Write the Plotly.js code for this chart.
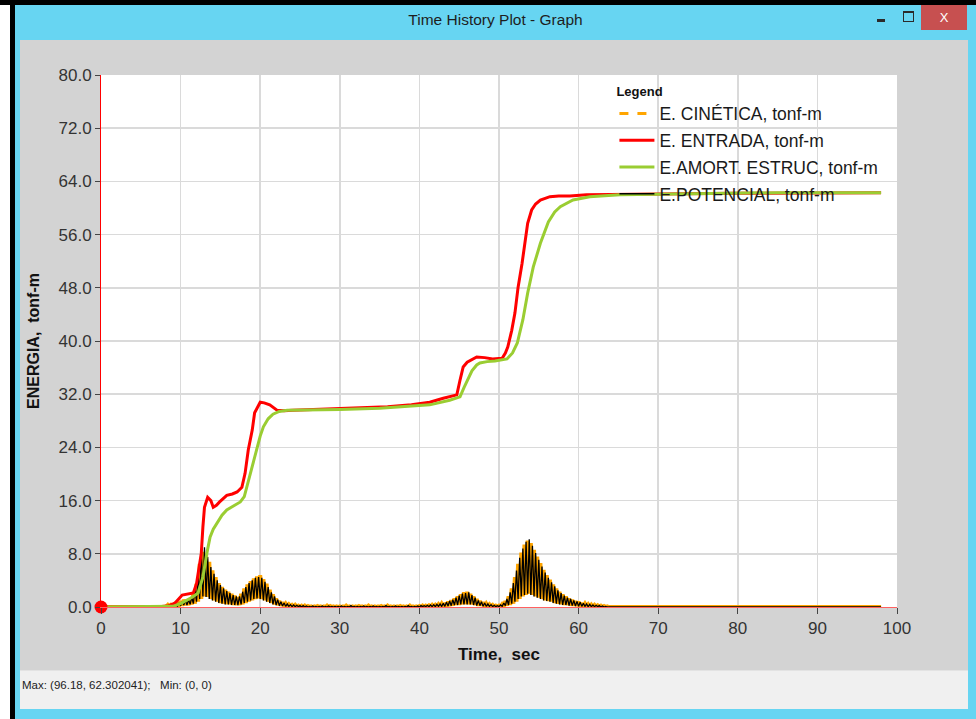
<!DOCTYPE html>
<html>
<head>
<meta charset="utf-8">
<script src="https://cdn.plot.ly/plotly-3.0.1.min.js"></script>
<style>
  html, body { margin:0; padding:0; }
  body { width:976px; height:719px; overflow:hidden; position:relative; background:#ffffff; font-family:"Liberation Sans", Arial, sans-serif; }
  .abs { position:absolute; }
  #blackTop { left:0; top:0; width:976px; height:5px; background:#000; }
  #blackLeft { left:10px; top:0; width:5px; height:719px; background:#000; }
  #win { left:15px; top:5px; width:961px; height:714px; background:#67d5f2; }
  #titleText { left:15px; top:11px; width:961px; text-align:center; font-size:15.5px; color:#1e1e1e; font-family:"Liberation Sans", Arial, sans-serif; }
  #btnMin { left:877px; top:19px; width:8px; height:3px; background:#2b2b2b; }
  #btnMax { left:903px; top:11px; width:9px; height:8px; border:1px solid #2b2b2b; border-top-width:2px; }
  #btnClose { left:921px; top:5px; width:46px; height:25px; background:#c75050; color:#fff; font-size:13px; text-align:center; line-height:25px; font-family:"Liberation Sans", Arial, sans-serif; }
  #content { left:20px; top:40px; width:948px; height:630px; background:#d3d3d3; }
  #status { left:20px; top:670px; width:948px; height:39px; background:#f0f0f0; border-top:1px solid #e3e3e3; box-sizing:border-box; }
  #statusText { left:22px; top:679px; font-size:11.5px; color:#222; white-space:pre; font-family:"Liberation Sans", Arial, sans-serif; }
  #plot { left:20px; top:40px; width:948px; height:630px; }
</style>
</head>
<body>
<div id="blackTop" class="abs"></div>
<div id="blackLeft" class="abs"></div>
<div id="win" class="abs"></div>
<div id="titleText" class="abs">Time History Plot - Graph</div>
<div id="btnMin" class="abs"></div>
<div id="btnMax" class="abs"></div>
<div id="btnClose" class="abs">X</div>
<div id="content" class="abs"></div>
<div id="status" class="abs"></div>
<div id="statusText" class="abs">Max: (96.18, 62.302041);   Min: (0, 0)</div>
<div id="plot" class="abs"></div>
<script>
// ---------------- DATA ----------------
const seriesNames = ["E. CINÉTICA, tonf-m", "E. ENTRADA, tonf-m", "E.AMORT. ESTRUC, tonf-m", "E.POTENCIAL, tonf-m"];

// Oscillating series sampled every 0.2 s starting at 8.0 s
const oscStart = 8.0;
const oscStep = 0.2;

const cineticaVals = [
  0.2,0.05,0.3,0.05,0.3,0.1,0.4,0.1,0.5,0.1,
  0.9,0.2,1.1,0.3,1.0,0.3,1.3,0.4,2.0,0.5,
  3.5,0.8,6.5,1.2,8.3,1.6,8.0,1.5,6.8,1.2,
  5.5,1.0,4.5,0.8,3.6,0.6,3.0,0.5,2.6,0.4,
  2.3,0.4,2.0,0.3,1.7,0.3,1.5,0.3,2.0,0.4,
  2.8,0.6,3.4,0.8,3.9,1.0,4.3,1.2,4.6,1.3,
  4.8,1.2,4.2,1.0,3.5,0.8,2.6,0.6,1.9,0.4,
  1.3,0.3,0.9,0.2,0.7,0.15,0.5,0.1,0.4,0.1,
  0.3,0.05,0.3,0.05,0.2,0.05,0.2,0.0,0.2,0.0,
  0.15,0.0,0.1,0.0,0.1,0.0,0.15,0.0,0.1,0.0,
  0.1,0.0,0.2,0.0,0.15,0.0,0.1,0.0,0.1,0.0,
  0.1,0.0,0.1,0.0,0.2,0.0,0.1,0.0,0.1,0.0,
  0.1,0.0,0.15,0.0,0.1,0.0,0.1,0.0,0.2,0.0,
  0.1,0.0,0.1,0.0,0.1,0.0,0.15,0.0,0.1,0.0,
  0.2,0.0,0.1,0.0,0.1,0.0,0.1,0.0,0.15,0.0,
  0.1,0.0,0.1,0.0,0.2,0.0,0.1,0.0,0.1,0.0,
  0.15,0.0,0.2,0.0,0.2,0.05,0.25,0.05,0.3,0.05,
  0.3,0.05,0.4,0.1,0.5,0.1,0.6,0.1,0.8,0.15,
  1.0,0.2,1.3,0.3,1.6,0.3,1.9,0.4,2.2,0.4,
  2.3,0.4,2.0,0.4,1.6,0.3,1.2,0.2,0.9,0.2,
  0.7,0.1,0.5,0.1,0.4,0.1,0.3,0.05,0.2,0.05,
  0.2,0.05,0.4,0.1,0.9,0.2,1.6,0.3,2.8,0.5,
  4.5,0.8,6.5,1.2,8.2,1.6,9.4,1.8,10.0,2.0,
  9.6,1.8,8.6,1.6,7.6,1.4,6.6,1.2,5.6,1.0,
  4.8,0.9,4.1,0.8,3.4,0.6,2.8,0.5,2.3,0.4,
  1.9,0.3,1.6,0.3,1.3,0.2,1.1,0.2,0.9,0.15,
  0.8,0.1,0.6,0.1,0.5,0.1,0.4,0.05,0.35,0.05,
  0.3,0.05,0.25,0.05,0.2,0.0,0.15,0.0,0.1,0.0
];

const potencialVals = [
  0.05,0.2,0.05,0.25,0.1,0.35,0.1,0.4,0.1,0.6,
  0.2,0.8,0.3,1.0,0.3,1.1,0.4,1.5,0.5,2.6,
  0.8,5.0,1.2,8.8,1.6,9.0,1.5,7.5,1.2,6.0,
  1.0,5.0,0.8,4.0,0.6,3.3,0.5,2.8,0.4,2.4,
  0.4,2.1,0.3,1.8,0.3,1.6,0.3,1.6,0.4,2.3,
  0.6,3.0,0.8,3.6,1.0,4.0,1.2,4.4,1.3,4.5,
  1.2,4.4,1.0,3.8,0.8,3.0,0.6,2.2,0.4,1.6,
  0.3,1.1,0.2,0.8,0.15,0.6,0.1,0.45,0.1,0.35,
  0.05,0.3,0.05,0.25,0.05,0.2,0.0,0.2,0.0,0.15,
  0.0,0.1,0.0,0.15,0.0,0.1,0.0,0.1,0.0,0.15,
  0.0,0.1,0.0,0.15,0.0,0.1,0.0,0.1,0.0,0.1,
  0.0,0.15,0.0,0.1,0.0,0.1,0.0,0.2,0.0,0.1,
  0.0,0.1,0.0,0.1,0.0,0.15,0.0,0.1,0.0,0.1,
  0.0,0.15,0.0,0.1,0.0,0.1,0.0,0.1,0.0,0.2,
  0.0,0.1,0.0,0.1,0.0,0.15,0.0,0.1,0.0,0.1,
  0.0,0.1,0.0,0.2,0.0,0.1,0.0,0.1,0.0,0.15,
  0.0,0.2,0.05,0.2,0.05,0.25,0.05,0.3,0.05,0.35,
  0.05,0.4,0.1,0.45,0.1,0.55,0.1,0.7,0.15,0.9,
  0.2,1.1,0.3,1.4,0.3,1.7,0.4,2.0,0.4,2.1,
  0.4,2.2,0.4,1.8,0.3,1.4,0.2,1.0,0.2,0.8,
  0.1,0.6,0.1,0.45,0.1,0.35,0.05,0.25,0.05,0.2,
  0.05,0.3,0.1,0.6,0.2,1.2,0.3,2.2,0.5,3.6,
  0.8,5.5,1.2,7.4,1.6,8.8,1.8,9.8,2.0,10.2,
  1.8,9.2,1.6,8.1,1.4,7.1,1.2,6.1,1.0,5.2,
  0.9,4.4,0.8,3.7,0.6,3.1,0.5,2.5,0.4,2.1,
  0.3,1.7,0.3,1.4,0.2,1.2,0.2,1.0,0.15,0.85,
  0.1,0.7,0.1,0.55,0.1,0.45,0.05,0.4,0.05,0.3,
  0.05,0.25,0.05,0.2,0.0,0.15,0.0,0.1,0.0,0.0
];

// flat (zero) parts of the oscillating series outside the sampled window
const restTime = [0, 8.0, null, 63.8, 98.0];
const restVals = [0, 0, null, 0, 0];

const entradaTime = [0,7,8.5,9.3,10.2,11.0,11.6,12.0,12.3,12.6,
  12.8,13.0,13.4,13.8,14.1,14.5,14.9,15.4,15.8,16.5,
  17.1,17.7,18.1,18.5,19.0,19.3,19.7,20.0,20.5,21.2,
  22.1,23.0,24.1,27,30,33,36,39,41.3,43.0,
  44.0,44.7,45.1,45.5,46.0,46.6,47.2,48.2,49.2,50.4,
  50.8,51.1,51.4,51.6,52.0,52.4,52.9,53.3,53.6,54.1,
  54.6,55.2,56.4,57.5,58.9,61,63.1,70,80,90,
  98];
const entradaVals = [0,0,0.2,0.6,1.8,2.0,2.1,3.5,5.5,8.1,
  12.0,15.0,16.5,16.0,15.0,15.3,15.8,16.3,16.8,17.0,
  17.3,18.0,20.1,23.6,26.6,29.2,30.2,30.8,30.7,30.4,
  29.6,29.5,29.6,29.7,29.8,29.9,30.1,30.4,30.8,31.4,
  31.7,31.9,34.1,36.1,36.8,37.2,37.6,37.5,37.3,37.4,
  38.2,39.1,40.6,41.6,44.2,48.1,51.7,55.2,57.7,59.7,
  60.6,61.2,61.7,61.8,61.8,62.0,62.0,62.1,62.2,62.3,
  62.3];

const amortTime = [0,9.0,10.0,10.8,11.5,12.2,12.8,13.3,13.7,14.1,
  14.6,15.2,15.8,16.6,17.5,18.0,18.3,18.7,19.0,19.6,
  20.0,20.4,21.0,21.6,22.4,23.4,26.3,30,35,38,
  41.3,43.8,45.1,45.6,46.0,46.6,47.2,47.6,48.5,49.5,
  51.0,51.7,52.3,53.0,53.6,54.3,55.2,56.2,57.0,57.7,
  59.3,61.4,65.2,75,85,98];
const amortVals = [0,0.1,0.5,1.0,1.5,2.1,4.5,8.1,10.5,11.7,
  12.6,13.8,14.6,15.2,15.8,16.6,18.0,19.5,21.1,24.1,
  25.7,27.1,28.3,29.0,29.4,29.6,29.6,29.7,29.9,30.1,
  30.4,31.1,31.6,33.0,34.1,35.5,36.4,36.7,36.9,37.0,
  37.3,38.2,39.7,43.2,47.2,51.1,54.7,57.9,59.4,60.2,
  61.2,61.7,62.0,62.2,62.3,62.3];

const cursorTime = [0];
const cursorVal = [0];

const xTickVals = [0,10,20,30,40,50,60,70,80,90,100];
const xTickText = ["0","10","20","30","40","50","60","70","80","90","100"];
const yTickVals = [0,8,16,24,32,40,48,56,64,72,80];
const yTickText = ["0.0","8.0","16.0","24.0","32.0","40.0","48.0","56.0","64.0","72.0","80.0"];

// ---------------- STYLE ----------------
const cOrange = "#ffa500", cRed = "#ff0000", cGreen = "#9acd32", cBlack = "#000000";
const FONT = "Liberation Sans, Arial, sans-serif";

const traces = [
  { // legend entry for CINETICA (dashed sample)
    x:[null], y:[null], type:"scatter", mode:"lines", name:seriesNames[0],
    line:{color:cOrange, width:3, dash:"dash"}, legendgroup:"g1", legendrank:1, hoverinfo:"skip"
  },
  {
    x0:oscStart, dx:oscStep, y:cineticaVals, type:"scatter", mode:"lines", name:seriesNames[0],
    line:{color:cOrange, width:4}, showlegend:false, legendgroup:"g1"
  },
  {
    x:restTime, y:restVals, type:"scatter", mode:"lines", name:seriesNames[0],
    line:{color:cOrange, width:4}, showlegend:false, legendgroup:"g1"
  },
  {
    x0:oscStart, dx:oscStep, y:potencialVals, type:"scatter", mode:"lines", name:seriesNames[3],
    line:{color:cBlack, width:1.3}, legendgroup:"g4", legendrank:4
  },
  {
    x:restTime, y:restVals, type:"scatter", mode:"lines", name:seriesNames[3],
    line:{color:cBlack, width:1.3}, showlegend:false, legendgroup:"g4"
  },
  {
    x:entradaTime, y:entradaVals, type:"scatter", mode:"lines", name:seriesNames[1],
    line:{color:cRed, width:3}, legendgroup:"g2", legendrank:2
  },
  {
    x:amortTime, y:amortVals, type:"scatter", mode:"lines", name:seriesNames[2],
    line:{color:cGreen, width:3}, legendgroup:"g3", legendrank:3
  },
  {
    x:cursorTime, y:cursorVal, type:"scatter", mode:"markers", showlegend:false,
    marker:{color:cRed, size:13}, cliponaxis:false, hoverinfo:"skip"
  }
];

const layout = {
  width:948, height:630,
  paper_bgcolor:"#d3d3d3", plot_bgcolor:"#ffffff",
  margin:{l:81, r:71, t:35, b:63, pad:0},
  font:{family:FONT, color:"#333333", size:16},
  showlegend:true,
  legend:{
    x:0.645, y:0.993, xanchor:"left", yanchor:"top",
    bgcolor:"rgba(0,0,0,0)", borderwidth:0,
    font:{family:FONT, size:17.5, color:"#1a1a1a"},
    title:{text:"<b>Legend</b>", font:{family:FONT, size:13, color:"#111"}},
    traceorder:"grouped", tracegroupgap:1, itemwidth:35
  },
  xaxis:{
    range:[0,100], tickmode:"array", tickvals:xTickVals, ticktext:xTickText,
    showgrid:true, gridcolor:"#dadada", gridwidth:1.5,
    showline:true, linecolor:"#ff6060", linewidth:1,
    zeroline:false, ticks:"outside", ticklen:6, tickcolor:"#444", tickwidth:1,
    tickfont:{family:FONT, size:17, color:"#333"},
    title:{text:"<b>Time,\u00a0 sec</b>", font:{family:FONT, size:17, color:"#111"}, standoff:10}
  },
  yaxis:{
    range:[0,80], tickmode:"array", tickvals:yTickVals, ticktext:yTickText,
    showgrid:true, gridcolor:"#dadada", gridwidth:1.5,
    showline:true, linecolor:"#ff0000", linewidth:1,
    zeroline:false, ticks:"outside", ticklen:5, tickcolor:"#444", tickwidth:1,
    tickfont:{family:FONT, size:17, color:"#333"},
    title:{text:"<b>ENERGIA,\u00a0 tonf-m</b>", font:{family:FONT, size:16, color:"#111"}, standoff:14}
  }
};

Plotly.newPlot("plot", traces, layout, {displayModeBar:false, staticPlot:true});
</script>
</body>
</html>
